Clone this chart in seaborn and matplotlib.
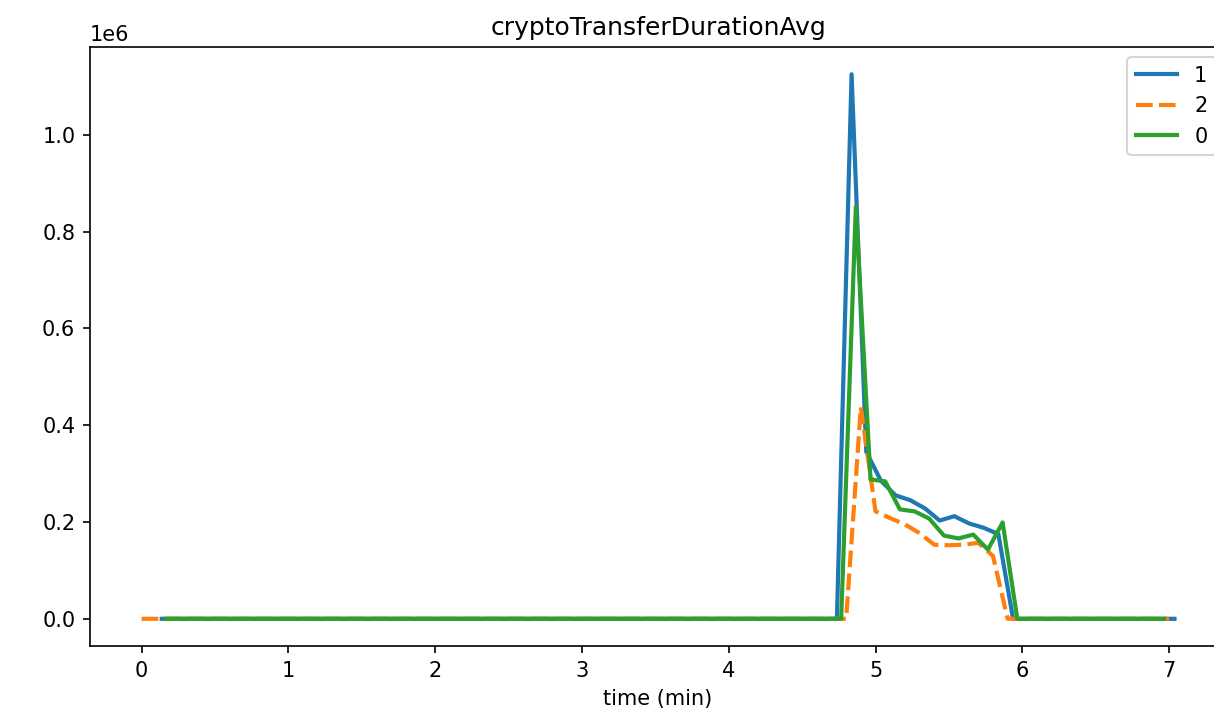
import numpy as np
import pandas as pd
import seaborn as sns
import matplotlib
matplotlib.use('Agg')
import matplotlib.pyplot as plt

# sampling of each series (minutes): first sample and interval
series_names = ['1', '2', '0']
start_min = {'1': 0.137, '2': 0.0, '0': 0.166}
step_min = 0.1

# cryptoTransferDurationAvg values
values_1 = [0.0] * 47 + [1.125e6, 0.345e6, 0.285e6, 0.255e6, 0.245e6, 0.228e6,
                         0.203e6, 0.212e6, 0.197e6, 0.188e6, 0.175e6] + [0.0] * 12
values_2 = [0.0] * 49 + [0.437e6, 0.222e6, 0.208e6, 0.195e6, 0.177e6, 0.153e6,
                         0.152e6, 0.153e6, 0.157e6, 0.130e6] + [0.0] * 12
values_0 = [0.0] * 47 + [0.851e6, 0.288e6, 0.284e6, 0.226e6, 0.222e6, 0.207e6,
                         0.172e6, 0.166e6, 0.174e6, 0.143e6, 0.199e6] + [0.0] * 11

series_values = {'1': values_1, '2': values_2, '0': values_0}

# build long dataframe for seaborn
dfs = []
for name in series_names:
    vals = series_values[name]
    t = start_min[name] + step_min * np.arange(len(vals))
    dfs = dfs + [pd.DataFrame({'time': t, 'value': vals, 'node': name})]
df = pd.concat(dfs, ignore_index=True)

plt.rcParams['font.family'] = ['DejaVu Sans']
fig, ax = plt.subplots(figsize=(1214 / 150, 719 / 150), dpi=150)
fig.subplots_adjust(left=0.0741, right=1.0100, bottom=0.1015, top=0.9346)

sns.lineplot(data=df, x='time', y='value', hue='node', style='node',
             hue_order=series_names, style_order=series_names,
             dashes={'1': '', '2': (4, 1.5), '0': ''}, linewidth=2, ax=ax)

ax.set_title('cryptoTransferDurationAvg')
ax.set_xlabel('time (min)')
ax.set_ylabel('')
ax.legend(loc='upper right')

fig.savefig('out.png', dpi=150)
